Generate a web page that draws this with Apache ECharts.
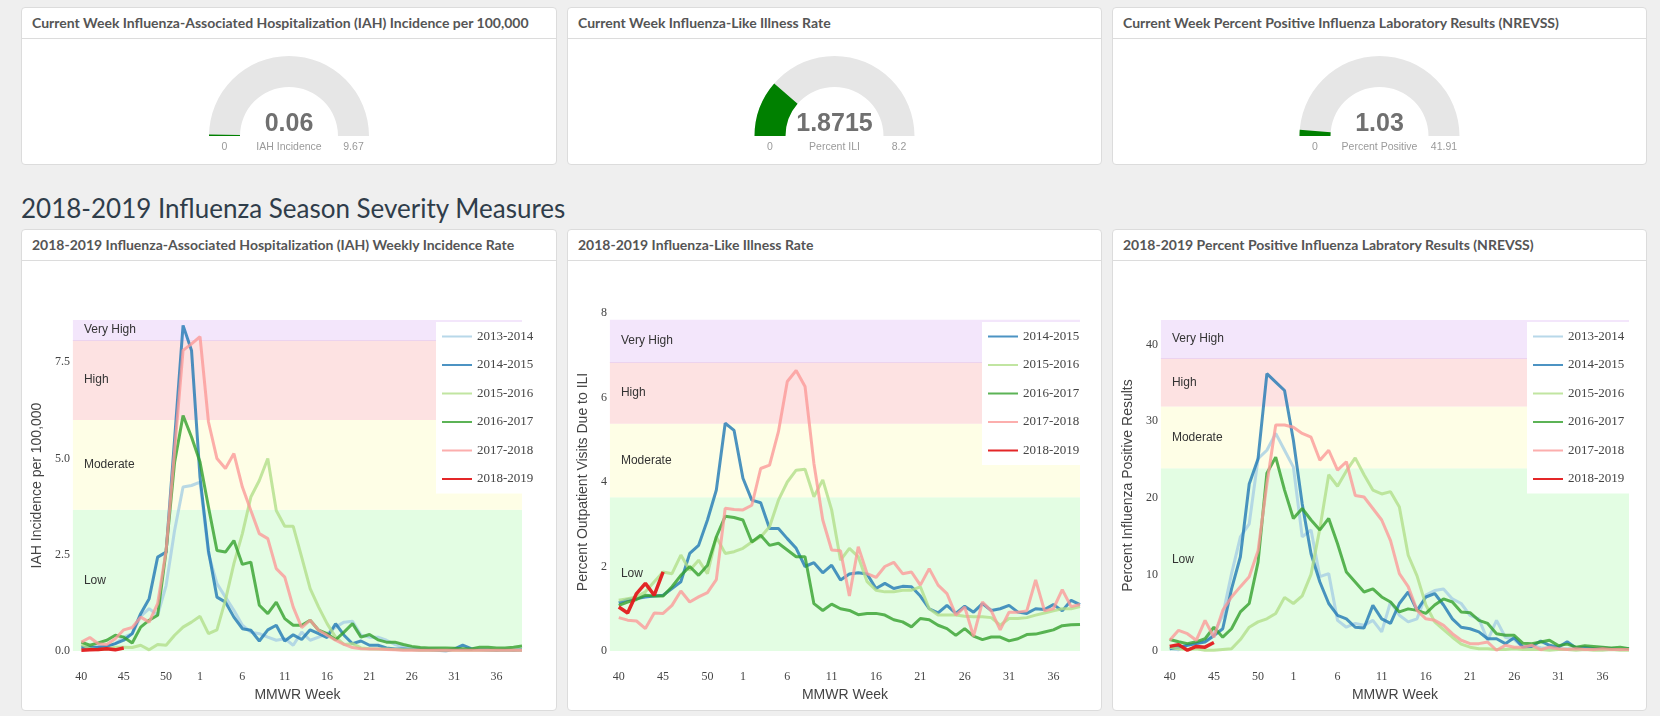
<!DOCTYPE html>
<html>
<head>
<meta charset="utf-8">
<title>2018-2019 Influenza Season Severity Measures</title>
<script src="https://cdn.jsdelivr.net/npm/echarts@6/dist/echarts.min.js"></script>
<style>
html, body { margin: 0; padding: 0; }
body { background: #efefef; width: 1660px; height: 716px; position: relative; overflow: hidden; font-family: Lato, 'Liberation Sans', sans-serif; }
.panel { position: absolute; background: #fff; border: 1px solid #dcdcdc; border-radius: 4px; box-sizing: border-box; }
.panel .hd { padding: 5px 10px; line-height: 20px; height: 20px; border-bottom: 1px solid #dcdcdc; font-size: 14px; font-weight: 700; color: #555; white-space: nowrap; overflow: hidden; }
.panel .bd { position: absolute; left: 0; right: 0; bottom: 0; top: 31px; }
h2 { position: absolute; left: 21px; top: 193px; margin: 0; font-size: 26px; line-height: 30px; font-weight: 400; color: #2f3d4a; white-space: nowrap; }
</style>
</head>
<body>

<div class="panel" style="left:21px;top:7px;width:536px;height:158px">
    <div class="hd">Current Week Influenza-Associated Hospitalization (IAH) Incidence per 100,000</div>
    <div class="bd" id="gauge-iah"></div>
</div>
<div class="panel" style="left:567px;top:7px;width:535px;height:158px">
    <div class="hd">Current Week Influenza-Like Illness Rate</div>
    <div class="bd" id="gauge-ili"></div>
</div>
<div class="panel" style="left:1112px;top:7px;width:535px;height:158px">
    <div class="hd">Current Week Percent Positive Influenza Laboratory Results (NREVSS)</div>
    <div class="bd" id="gauge-pp"></div>
</div>

<h2>2018-2019 Influenza Season Severity Measures</h2>

<div class="panel" style="left:21px;top:229px;width:536px;height:482px">
    <div class="hd">2018-2019 Influenza-Associated Hospitalization (IAH) Weekly Incidence Rate</div>
    <div class="bd" id="chart-iah"></div>
</div>
<div class="panel" style="left:567px;top:229px;width:535px;height:482px">
    <div class="hd">2018-2019 Influenza-Like Illness Rate</div>
    <div class="bd" id="chart-ili"></div>
</div>
<div class="panel" style="left:1112px;top:229px;width:535px;height:482px">
    <div class="hd">2018-2019 Percent Positive Influenza Labratory Results (NREVSS)</div>
    <div class="bd" id="chart-pp"></div>
</div>

<script>
// MMWR weeks of a season (2014-2015 had a week 53)
var weeks = [40, 41, 42, 43, 44, 45, 46, 47, 48, 49, 50, 51, 52, 53,
    1, 2, 3, 4, 5, 6, 7, 8, 9, 10, 11, 12, 13, 14, 15, 16, 17, 18, 19, 20,
    21, 22, 23, 24, 25, 26, 27, 28, 29, 30, 31, 32, 33, 34, 35, 36, 37, 38, 39]
var tickWeeks = [40, 45, 50, 1, 6, 11, 16, 21, 26, 31, 36]

var seasons = ['2013-2014', '2014-2015', '2015-2016', '2016-2017', '2017-2018', '2018-2019']
var seasonColors = ['#a6cee3', '#1f78b4', '#b2df8a', '#33a02c', '#fb9a99', '#e31a1c']

var bandNames = ['Low', 'Moderate', 'High', 'Very High']

// current week gauges
var gaugeLabels = ['IAH Incidence', 'Percent ILI', 'Percent Positive']
var gaugeValues = [0.06, 1.8715, 1.03]
var gaugeMax = [9.67, 8.2, 41.91]

// IAH incidence per 100,000
var iahBands = [0, 3.67, 6.0, 8.08, 8.6]
var iah1314 = [0.10, 0.10, 0.12, 0.12, 0.19, 0.36, 0.45, 0.90, 1.10, 0.93,
    1.70, 3.13, 4.26, 4.30, 4.39, 2.53, 1.75, 1.40, 1.06, 0.67,
    0.49, 0.45, 0.36, 0.28, 0.32, 0.15, 0.49, 0.28, 0.36, 0.45,
    0.62, 0.75, 0.77, 0.41, 0.36, 0.36, 0.28, 0.17, 0.10, 0.08,
    0.06, 0.05, 0.05, 0.04, 0.04, 0.03, 0.03, 0.03, 0.02, 0.02,
    0.02, 0.02, 0.02]
var iah1415 = [0.10, 0.09, 0.10, 0.12, 0.19, 0.28, 0.45, 0.97, 1.36, 2.44,
    2.57, 5.50, 8.46, 7.81, 4.52, 2.60, 1.40, 1.27, 0.88, 0.58,
    0.54, 0.26, 0.55, 0.67, 0.26, 0.42, 0.30, 0.55, 0.45, 0.35,
    0.71, 0.41, 0.19, 0.26, 0.15, 0.15, 0.08, 0.05, 0.05, 0.04,
    0.03, 0.03, 0.02, 0.00, 0.05, 0.15, 0.06, 0.04, 0.03, 0.02,
    0.03, 0.02, 0.03]
var iah1516 = [0.17, 0.06, 0.03, 0.06, 0.10, 0.10, 0.09, 0.15, 0.03, 0.17,
    0.15, 0.41, 0.62, 0.75, 0.90, 0.45, 0.55, 1.32, 2.27, 3.05,
    4.00, 4.43, 5.00, 3.65, 3.24, 3.24, 2.44, 1.62, 1.14, 0.71,
    0.36, 0.17, 0.19, 0.08, 0.06, 0.05, 0.05, 0.04, 0.03, 0.03,
    0.02, 0.02, 0.02, 0.02, 0.02, 0.02, 0.02, 0.02, 0.02, 0.02,
    0.02, 0.02, 0.02]
var iah1617 = [0.23, 0.15, 0.21, 0.28, 0.41, 0.36, 0.21, 0.62, 0.80, 0.93,
    2.60, 4.90, 6.12, 5.56, 4.91, 3.74, 2.61, 2.57, 2.87, 2.25,
    2.31, 1.19, 0.97, 1.27, 0.84, 0.67, 0.67, 0.80, 0.54, 0.45,
    0.29, 0.49, 0.71, 0.36, 0.43, 0.29, 0.23, 0.23, 0.17, 0.12,
    0.09, 0.08, 0.08, 0.08, 0.07, 0.06, 0.05, 0.10, 0.10, 0.08,
    0.08, 0.10, 0.13]
var iah1718 = [0.23, 0.35, 0.19, 0.17, 0.32, 0.55, 0.61, 0.88, 0.75, 1.23,
    2.61, 5.20, 7.81, 7.98, 8.17, 5.95, 5.00, 4.74, 5.13, 4.26,
    3.65, 3.05, 2.92, 2.14, 1.92, 1.14, 0.61, 0.80, 0.54, 0.41,
    0.28, 0.17, 0.09, 0.06, 0.05, 0.05, 0.04, 0.03, 0.02, 0.02,
    0.02, 0.02, 0.02, 0.02, 0.02, 0.02, 0.02, 0.02, 0.02, 0.02,
    0.02, 0.02, 0.02]
var iah1819 = [0.02, 0.03, 0.04, 0.06, 0.03, 0.08]

// percent of outpatient visits due to ILI
var iliBands = [0, 3.64, 5.38, 6.84, 7.84]
var ili1415 = [1.14, 1.22, 1.24, 1.28, 1.30, 1.32, 1.48, 1.64, 2.31, 2.50,
    3.10, 3.81, 5.39, 5.22, 4.09, 3.57, 3.51, 2.90, 2.90, 2.66,
    2.43, 2.00, 2.09, 1.85, 2.03, 1.68, 1.82, 1.85, 1.82, 1.48,
    1.60, 1.48, 1.53, 1.52, 1.30, 1.00, 0.90, 1.08, 0.89, 1.06,
    0.92, 1.12, 0.96, 1.00, 1.08, 0.92, 0.89, 1.00, 0.98, 1.10,
    0.95, 1.20, 1.10]
var ili1516 = [1.20, 1.24, 1.28, 1.40, 1.64, 1.87, 1.83, 2.27, 1.91, 2.15,
    1.83, 2.70, 2.31, 2.35, 2.43, 2.58, 2.70, 2.94, 3.57, 4.00,
    4.28, 4.30, 3.65, 4.05, 3.34, 2.15, 2.43, 2.23, 1.64, 1.44,
    1.40, 1.40, 1.44, 1.44, 1.52, 1.00, 0.85, 0.85, 0.85, 0.82,
    0.81, 0.81, 0.79, 0.61, 0.77, 0.77, 0.79, 0.85, 0.90, 0.95,
    1.00, 1.00, 1.05]
var ili1617 = [1.08, 1.16, 1.22, 1.32, 1.30, 1.30, 1.52, 1.79, 2.00, 1.79,
    2.03, 2.70, 3.19, 3.16, 3.10, 2.58, 2.74, 2.50, 2.55, 2.39,
    2.23, 2.23, 1.12, 0.96, 1.11, 1.00, 0.96, 0.86, 0.89, 0.89,
    0.85, 0.74, 0.69, 0.57, 0.77, 0.74, 0.61, 0.53, 0.37, 0.53,
    0.35, 0.27, 0.33, 0.33, 0.24, 0.29, 0.39, 0.40, 0.45, 0.50,
    0.60, 0.62, 0.63]
var ili1718 = [0.79, 0.73, 0.71, 0.53, 0.90, 0.89, 1.08, 1.42, 1.16, 1.28,
    1.38, 1.69, 3.38, 3.35, 3.34, 3.45, 4.32, 4.40, 5.19, 6.38,
    6.64, 6.26, 4.44, 3.10, 2.39, 2.37, 1.30, 2.47, 1.83, 1.74,
    2.00, 2.10, 1.83, 1.87, 1.56, 1.95, 1.56, 1.36, 0.85, 1.04,
    0.35, 1.16, 0.95, 0.50, 0.92, 0.92, 0.95, 1.68, 0.95, 1.00,
    1.45, 1.05, 1.10]
var ili1819 = [1.04, 0.90, 1.36, 1.60, 1.32, 1.87]

// percent positive influenza laboratory results
var ppBands = [0, 23.85, 31.9, 38.2, 43.2]
var pp1314 = [0.30, 0.17, 0.74, 0.96, 1.40, 2.26, 4.66, 10.1, 14.9, 16.6,
    25.1, 26.2, 28.4, 26.2, 24.0, 14.9, 15.8, 9.7, 10.1, 4.0,
    3.1, 3.6, 3.35, 4.0, 2.5, 6.4, 4.66, 3.8, 4.2, 7.3,
    7.9, 8.1, 6.8, 6.2, 4.66, 4.2, 1.4, 4.0, 1.8, 1.5,
    0.5, 0.74, 0.43, 0.4, 0.3, 0.3, 0.25, 0.3, 0.25, 0.2,
    0.2, 0.2, 0.2]
var pp1415 = [0.3, 0.5, 0.74, 0.96, 1.17, 2.0, 2.9, 8.1, 12.3, 21.8,
    25.1, 36.2, 35.1, 34.0, 27.5, 19.2, 12.7, 9.0, 6.2, 4.66,
    4.2, 3.1, 3.0, 5.96, 4.2, 3.6, 6.2, 7.7, 5.3, 7.05,
    7.5, 6.0, 4.2, 3.1, 2.9, 2.5, 1.6, 1.6, 0.96, 1.74,
    0.5, 0.6, 1.3, 0.74, 0.5, 1.2, 0.4, 0.5, 0.3, 0.4,
    0.3, 0.2, 0.3]
var pp1516 = [0.5, 0.3, 0.2, 0.3, 0.1, 0.1, 0.2, 0.3, 1.5, 3.1,
    3.8, 4.2, 4.9, 7.0, 6.2, 7.2, 10.0, 16.0, 23.0, 21.5,
    23.5, 25.2, 23.0, 21.0, 20.5, 20.8, 18.8, 12.5, 9.8, 6.0,
    3.8, 2.8, 1.8, 0.9, 0.5, 0.3, 0.3, 0.2, 0.2, 0.3,
    0.2, 0.2, 0.2, 0.1, 0.2, 0.2, 0.1, 0.2, 0.1, 0.1,
    0.2, 0.1, 0.1]
var pp1617 = [1.5, 1.2, 0.96, 1.2, 1.6, 3.1, 1.8, 2.9, 5.1, 6.2,
    11.6, 23.2, 25.3, 21.0, 17.3, 18.6, 17.1, 15.8, 17.3, 14.0,
    10.3, 9.0, 7.7, 8.1, 7.05, 6.4, 5.1, 5.5, 5.3, 4.9,
    6.0, 6.8, 6.4, 5.1, 5.0, 4.0, 3.6, 2.26, 2.05, 2.05,
    1.0, 0.96, 1.17, 1.4, 0.7, 0.9, 0.5, 0.7, 0.6, 0.5,
    0.4, 0.5, 0.3]
var pp1718 = [1.4, 2.7, 2.26, 1.4, 4.0, 1.8, 5.3, 7.05, 8.4, 9.7,
    13.1, 21.8, 29.5, 29.5, 29.2, 28.4, 27.9, 24.9, 26.2, 23.6,
    24.7, 20.3, 20.1, 18.6, 17.1, 14.4, 10.1, 8.4, 5.3, 4.2,
    4.0, 3.35, 2.26, 1.4, 0.96, 0.96, 1.17, 0.1, 0.74, 0.5,
    0.5, 0.74, 0.17, 0.5, 0.3, 0.2, 0.3, 0.2, 0.2, 0.3,
    0.2, 0.2, 0.2]
var pp1819 = [0.6, 0.83, 0.1, 0.6, 0.5, 1.1]

var bandColors = ['#e3fde3', '#fefee6', '#fde2e2', '#f3e6fb']
var serif = 'Liberation Serif'
var sans = 'Liberation Sans'

function extend( a, b ) {
    for ( var k in b ) a[k] = b[k]
    return a
}

function drawGauge( id, idx ) {
    var dom = document.getElementById( id )
    var cx = dom.clientWidth / 2
    var cy = 97
    var chart = echarts.init( dom )
    var lblStyle = { fill: '#9a9a9a', font: '10.5px "Liberation Sans"', textAlign: 'center', textVerticalAlign: 'middle' }
    chart.setOption( {
        animation: false,
        series: [{
            type: 'gauge',
            center: [cx, cy],
            radius: 80,
            startAngle: 180,
            endAngle: 0,
            min: 0,
            max: gaugeMax[idx],
            axisLine: { lineStyle: { width: 31, color: [[1, '#e6e6e6']] } },
            progress: { show: true, width: 31, itemStyle: { color: '#008000' } },
            pointer: { show: false },
            anchor: { show: false },
            axisTick: { show: false },
            splitLine: { show: false },
            axisLabel: { show: false },
            title: { offsetCenter: [0, 11], fontSize: 10.5, color: '#9a9a9a', fontFamily: sans },
            detail: {
                offsetCenter: [0, -12],
                fontSize: 25,
                fontWeight: 'bold',
                color: '#707070',
                fontFamily: sans,
                formatter: function ( v ) { return String( v ) }
            },
            data: [{ value: gaugeValues[idx], name: gaugeLabels[idx] }]
        }],
        graphic: [
            { type: 'text', x: cx - 64.5, y: cy + 11, style: extend( { text: '0' }, lblStyle ) },
            { type: 'text', x: cx + 64.5, y: cy + 11, style: extend( { text: String( gaugeMax[idx] ) }, lblStyle ) }
        ]
    } )
}

function drawSeverity( id, cfg ) {
    var chart = echarts.init( document.getElementById( id ) )
    var b = cfg.bands
    var series = [{
        name: 'bands',
        type: 'line',
        data: [],
        z: 1,
        silent: true,
        markArea: {
            silent: true,
            z: 1,
            label: { position: 'insideLeft', distance: 11, color: '#333', fontSize: 12, fontFamily: sans },
            data: bandNames.map( function ( n, i ) {
                return [{ yAxis: b[i], name: n, itemStyle: { color: bandColors[i] } }, { yAxis: b[i + 1] }]
            } )
        },
        markLine: {
            silent: true,
            z: 1,
            symbol: ['none', 'none'],
            label: { show: false },
            lineStyle: { color: '#ecd3ee', width: 1, type: 'solid' },
            data: [{ yAxis: b[3] }]
        }
    }]
    cfg.names.forEach( function ( name, i ) {
        var c = seasonColors[seasons.indexOf( name )]
        var current = name === '2018-2019'
        series.push( {
            name: name,
            type: 'line',
            z: 2,
            symbol: 'none',
            data: cfg.values[i].map( function ( v, k ) { return [k, v] } ),
            itemStyle: { color: c },
            lineStyle: { color: c, width: current ? 3.5 : 3, opacity: current ? 0.95 : 0.8 },
            emphasis: { disabled: true }
        } )
    } )
    chart.setOption( {
        animation: false,
        grid: cfg.grid,
        legend: {
            data: cfg.names,
            orient: 'vertical',
            left: 414,
            top: 61,
            z: 6,
            backgroundColor: '#fff',
            padding: [8, 8, 8, 5],
            itemGap: 15.5,
            itemWidth: 30,
            itemHeight: 14,
            // line only, no marker circle
            itemStyle: { opacity: 0 },
            textStyle: { fontFamily: serif, fontSize: 13, color: '#444' }
        },
        xAxis: {
            type: 'value',
            min: -1,
            max: weeks.length - 1,
            interval: 1,
            name: 'MMWR Week',
            nameLocation: 'middle',
            nameGap: 37,
            nameTextStyle: { fontFamily: sans, fontSize: 14, color: '#444' },
            axisLine: { show: false },
            axisTick: { show: false },
            splitLine: { show: false },
            axisLabel: {
                margin: 20,
                fontFamily: serif,
                fontSize: 12,
                color: '#444',
                formatter: function ( v ) {
                    var w = weeks[v]
                    return ( w !== undefined && tickWeeks.indexOf( w ) >= 0 ) ? String( w ) : ''
                }
            }
        },
        yAxis: {
            type: 'value',
            min: 0,
            max: cfg.yMax,
            interval: cfg.yInterval,
            name: cfg.yName,
            nameLocation: 'middle',
            nameGap: cfg.yNameGap,
            nameTextStyle: { fontFamily: sans, fontSize: 14, color: '#444' },
            axisLine: { show: false },
            axisTick: { show: false },
            splitLine: { show: false },
            axisLabel: {
                margin: 3,
                fontFamily: serif,
                fontSize: 12,
                color: '#444',
                showMaxLabel: cfg.showMax,
                formatter: cfg.yFormat
            }
        },
        series: series
    } )
}

drawGauge( 'gauge-iah', 0 )
drawGauge( 'gauge-ili', 1 )
drawGauge( 'gauge-pp', 2 )

drawSeverity( 'chart-iah', {
    names: seasons,
    values: [iah1314, iah1415, iah1516, iah1617, iah1718, iah1819],
    bands: iahBands,
    grid: { left: 49, right: 34, top: 59, bottom: 59 },
    yMax: iahBands[4],
    yInterval: 2.5,
    showMax: false,
    yName: 'IAH Incidence per 100,000',
    yNameGap: 26,
    yFormat: function ( v ) { return v.toFixed( 1 ) }
} )

drawSeverity( 'chart-ili', {
    names: seasons.slice( 1 ),
    values: [ili1415, ili1516, ili1617, ili1718, ili1819],
    bands: iliBands,
    grid: { left: 37, right: 21, top: 52, bottom: 59 },
    yMax: 8,
    yInterval: 2,
    showMax: true,
    yName: 'Percent Outpatient Visits Due to ILI',
    yNameGap: 15,
    yFormat: function ( v ) { return String( v ) }
} )

drawSeverity( 'chart-pp', {
    names: seasons,
    values: [pp1314, pp1415, pp1516, pp1617, pp1718, pp1819],
    bands: ppBands,
    grid: { left: 43, right: 17, top: 59, bottom: 59 },
    yMax: ppBands[4],
    yInterval: 10,
    showMax: false,
    yName: 'Percent Influenza Positive Results',
    yNameGap: 21,
    yFormat: function ( v ) { return String( v ) }
} )
</script>
</body>
</html>
